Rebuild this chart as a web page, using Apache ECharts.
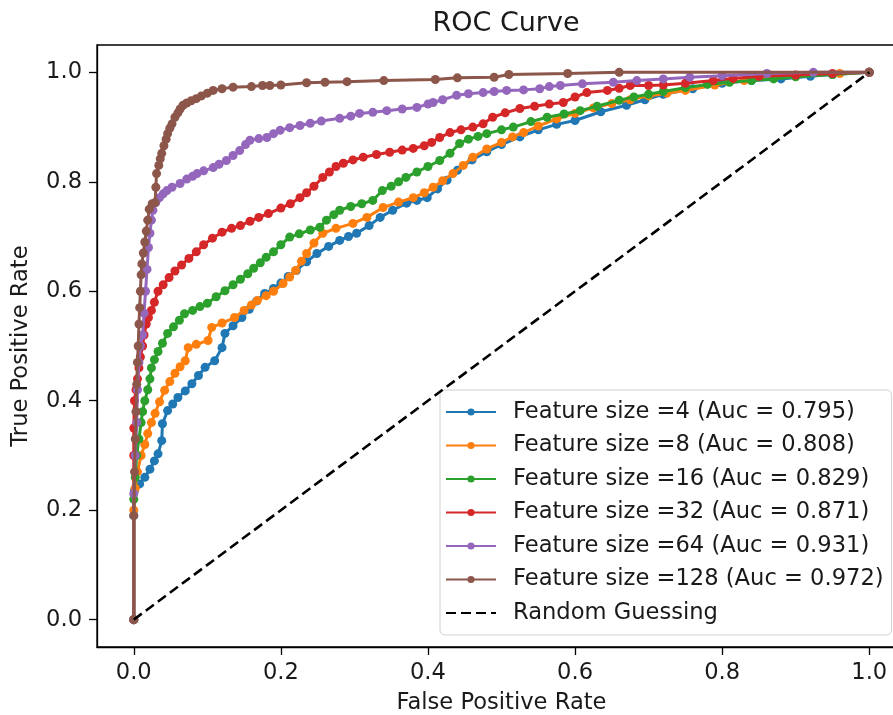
<!DOCTYPE html>
<html>
<head>
<meta charset="utf-8">
<title>ROC Curve</title>
<script src="https://cdn.jsdelivr.net/npm/echarts@6/dist/echarts.min.js"></script>
<style>
  html, body { margin: 0; padding: 0; background: #ffffff; overflow: hidden; }
  /* the figure is wider than the window; its right spine falls just outside the view */
  #chart { width: 940px; height: 715px; }
</style>
</head>
<body>
<div id="chart"></div>
<script>
// ROC points per feature size: [false positive rate, true positive rate]
const rocSize4 = [[0,0],[0,0.19],[0.001,0.236],[0.008,0.248],[0.015,0.26],[0.022,0.275],[0.028,0.29],[0.033,0.303],[0.038,0.327],[0.039,0.358],[0.046,0.382],[0.053,0.394],[0.06,0.406],[0.07,0.418],[0.079,0.431],[0.088,0.446],[0.097,0.461],[0.11,0.473],[0.12,0.497],[0.124,0.523],[0.135,0.537],[0.147,0.552],[0.157,0.567],[0.167,0.582],[0.178,0.596],[0.19,0.605],[0.2,0.615],[0.21,0.627],[0.221,0.638],[0.235,0.654],[0.249,0.669],[0.265,0.682],[0.28,0.693],[0.292,0.7],[0.303,0.706],[0.32,0.72],[0.335,0.735],[0.352,0.748],[0.371,0.761],[0.385,0.766],[0.399,0.771],[0.413,0.787],[0.426,0.803],[0.44,0.821],[0.46,0.84],[0.48,0.855],[0.5,0.868],[0.525,0.882],[0.55,0.895],[0.575,0.905],[0.6,0.912],[0.635,0.928],[0.67,0.94],[0.695,0.95],[0.72,0.96],[0.76,0.97],[0.8,0.98],[0.84,0.985],[0.88,0.988],[0.92,0.993],[0.95,0.996],[1,1]];
const rocSize8 = [[0,0],[0,0.2],[0.002,0.24],[0.005,0.27],[0.01,0.3],[0.015,0.32],[0.019,0.34],[0.024,0.36],[0.029,0.377],[0.035,0.398],[0.042,0.419],[0.049,0.435],[0.056,0.45],[0.063,0.462],[0.07,0.473],[0.074,0.497],[0.085,0.503],[0.101,0.51],[0.106,0.534],[0.12,0.542],[0.137,0.552],[0.15,0.565],[0.16,0.575],[0.168,0.583],[0.18,0.592],[0.19,0.6],[0.203,0.614],[0.212,0.626],[0.22,0.638],[0.228,0.655],[0.235,0.669],[0.245,0.688],[0.257,0.706],[0.275,0.715],[0.298,0.724],[0.317,0.735],[0.339,0.753],[0.36,0.763],[0.38,0.771],[0.395,0.78],[0.407,0.79],[0.42,0.802],[0.434,0.815],[0.448,0.83],[0.461,0.845],[0.48,0.86],[0.5,0.872],[0.515,0.882],[0.53,0.89],[0.55,0.902],[0.575,0.915],[0.6,0.925],[0.625,0.935],[0.65,0.943],[0.675,0.95],[0.7,0.957],[0.725,0.962],[0.75,0.967],[0.79,0.977],[0.83,0.985],[0.87,0.99],[0.9,0.993],[0.96,0.998],[1,1]];
const rocSize16 = [[0,0],[0,0.22],[0.002,0.26],[0.004,0.3],[0.007,0.33],[0.01,0.36],[0.012,0.38],[0.015,0.4],[0.019,0.42],[0.022,0.44],[0.024,0.46],[0.028,0.475],[0.033,0.49],[0.039,0.505],[0.046,0.523],[0.054,0.535],[0.062,0.547],[0.069,0.559],[0.08,0.565],[0.09,0.572],[0.1,0.578],[0.112,0.59],[0.124,0.601],[0.135,0.612],[0.145,0.622],[0.155,0.632],[0.163,0.642],[0.172,0.652],[0.18,0.662],[0.19,0.672],[0.2,0.685],[0.212,0.699],[0.225,0.705],[0.24,0.712],[0.253,0.717],[0.262,0.73],[0.272,0.74],[0.28,0.748],[0.295,0.755],[0.31,0.76],[0.325,0.766],[0.338,0.784],[0.35,0.792],[0.36,0.8],[0.37,0.808],[0.385,0.818],[0.4,0.828],[0.416,0.839],[0.43,0.852],[0.443,0.87],[0.455,0.878],[0.468,0.883],[0.48,0.888],[0.5,0.895],[0.516,0.9],[0.54,0.91],[0.562,0.918],[0.585,0.924],[0.607,0.93],[0.63,0.938],[0.66,0.949],[0.68,0.955],[0.7,0.96],[0.72,0.965],[0.75,0.972],[0.78,0.978],[0.81,0.982],[0.84,0.985],[0.87,0.988],[0.9,0.992],[0.95,0.996],[1,1]];
const rocSize32 = [[0,0],[0,0.3],[0,0.35],[0.001,0.4],[0.003,0.42],[0.005,0.44],[0.007,0.46],[0.009,0.48],[0.012,0.5],[0.014,0.52],[0.017,0.54],[0.02,0.552],[0.024,0.565],[0.028,0.58],[0.033,0.6],[0.04,0.612],[0.048,0.625],[0.056,0.637],[0.065,0.648],[0.075,0.66],[0.085,0.672],[0.095,0.685],[0.107,0.697],[0.12,0.708],[0.133,0.715],[0.145,0.72],[0.158,0.728],[0.17,0.735],[0.183,0.742],[0.2,0.752],[0.213,0.76],[0.226,0.771],[0.235,0.78],[0.245,0.792],[0.257,0.808],[0.266,0.818],[0.275,0.828],[0.285,0.834],[0.298,0.84],[0.312,0.845],[0.33,0.85],[0.348,0.854],[0.365,0.858],[0.38,0.861],[0.395,0.866],[0.405,0.872],[0.416,0.881],[0.43,0.89],[0.445,0.895],[0.461,0.9],[0.475,0.906],[0.488,0.918],[0.505,0.926],[0.525,0.934],[0.545,0.938],[0.565,0.942],[0.584,0.945],[0.6,0.955],[0.616,0.963],[0.644,0.967],[0.66,0.971],[0.675,0.976],[0.7,0.976],[0.72,0.977],[0.75,0.98],[0.788,0.985],[0.815,0.989],[0.85,0.993],[0.9,0.995],[0.95,0.998],[1,1]];
const rocSize64 = [[0,0],[0,0.23],[0.002,0.3],[0.004,0.36],[0.005,0.42],[0.007,0.47],[0.009,0.5],[0.012,0.52],[0.014,0.56],[0.016,0.6],[0.018,0.64],[0.02,0.68],[0.022,0.706],[0.024,0.73],[0.026,0.748],[0.03,0.762],[0.035,0.771],[0.04,0.778],[0.045,0.784],[0.052,0.79],[0.063,0.797],[0.072,0.805],[0.08,0.81],[0.086,0.815],[0.095,0.82],[0.108,0.826],[0.116,0.832],[0.126,0.839],[0.135,0.848],[0.144,0.857],[0.152,0.868],[0.158,0.876],[0.17,0.879],[0.181,0.881],[0.19,0.888],[0.199,0.894],[0.212,0.899],[0.226,0.903],[0.24,0.907],[0.255,0.911],[0.28,0.916],[0.295,0.92],[0.307,0.925],[0.325,0.927],[0.344,0.93],[0.365,0.933],[0.385,0.936],[0.4,0.942],[0.407,0.945],[0.42,0.95],[0.439,0.958],[0.455,0.961],[0.475,0.963],[0.49,0.965],[0.507,0.967],[0.53,0.968],[0.552,0.97],[0.565,0.974],[0.58,0.976],[0.61,0.979],[0.652,0.982],[0.684,0.985],[0.72,0.988],[0.756,0.991],[0.8,0.994],[0.861,0.998],[0.924,1],[1,1]];
const rocSize128 = [[0,0],[0,0.19],[0.001,0.27],[0.002,0.33],[0.003,0.38],[0.004,0.43],[0.005,0.47],[0.006,0.5],[0.007,0.54],[0.008,0.57],[0.009,0.6],[0.01,0.63],[0.011,0.65],[0.013,0.67],[0.015,0.69],[0.017,0.71],[0.019,0.73],[0.021,0.75],[0.025,0.76],[0.029,0.762],[0.03,0.79],[0.031,0.815],[0.034,0.83],[0.036,0.842],[0.038,0.852],[0.041,0.866],[0.044,0.878],[0.046,0.888],[0.049,0.898],[0.052,0.906],[0.056,0.918],[0.06,0.926],[0.063,0.933],[0.067,0.94],[0.072,0.944],[0.078,0.948],[0.085,0.952],[0.092,0.957],[0.1,0.962],[0.108,0.967],[0.12,0.97],[0.135,0.973],[0.16,0.974],[0.175,0.976],[0.185,0.976],[0.2,0.977],[0.235,0.981],[0.26,0.982],[0.29,0.983],[0.34,0.985],[0.41,0.987],[0.44,0.99],[0.49,0.991],[0.51,0.996],[0.59,0.998],[0.66,1],[1,1]];
const chanceLine = [[0,0],[1,1]];

const featureSizes = [4, 8, 16, 32, 64, 128];
const aucValues = ['0.795', '0.808', '0.829', '0.871', '0.931', '0.972'];
const rocCurves = [rocSize4, rocSize8, rocSize16, rocSize32, rocSize64, rocSize128];
const curveColors = ['#1f77b4', '#ff7f0e', '#2ca02c', '#d62728', '#9467bd', '#8c564b'];
const tickValues = [0, 0.2, 0.4, 0.6, 0.8, 1.0];

const titleText = 'ROC Curve';
const xAxisName = 'False Positive Rate';
const yAxisName = 'True Positive Rate';
const chanceName = 'Random Guessing';

const FONT = '"DejaVu Sans", "Liberation Sans", sans-serif';
const TEXT_COLOR = '#1a1a1a';
const BASE_SIZE = 22.6;

const series = rocCurves.map(function (pts, i) {
  return {
    name: 'Feature size =' + featureSizes[i] + ' (Auc = ' + aucValues[i] + ')',
    type: 'line',
    data: pts,
    color: curveColors[i],
    symbol: 'circle',
    symbolSize: 9,
    showSymbol: true,
    lineStyle: { width: 3, color: curveColors[i] },
    itemStyle: { color: curveColors[i] },
    z: 2 + i,
    silent: true
  };
});

series.push({
  name: chanceName,
  type: 'line',
  data: chanceLine,
  color: '#000000',
  symbol: 'none',
  lineStyle: { width: 2.6, color: '#000000', type: [10, 5] },
  itemStyle: { color: '#000000' },
  z: 10,
  silent: true
});

function axisCommon(name, nameGap) {
  return {
    type: 'value',
    min: -0.05,
    max: 1.05,
    name: name,
    nameLocation: 'middle',
    nameGap: nameGap,
    nameTextStyle: { fontFamily: FONT, fontSize: BASE_SIZE, color: TEXT_COLOR },
    splitLine: { show: false },
    axisLine: { show: true, onZero: false, lineStyle: { color: '#000000', width: 1.3 } },
    axisTick: { show: true, inside: false, length: 8, customValues: tickValues, lineStyle: { color: '#000000', width: 1.3 } },
    axisLabel: {
      show: true,
      customValues: tickValues,
      margin: 15,
      fontFamily: FONT,
      fontSize: BASE_SIZE,
      color: TEXT_COLOR,
      formatter: function (v) { return Number(v).toFixed(1); }
    }
  };
}

const legendData = series.map(function (s) {
  if (s.name === chanceName) {
    // dashed line only, no marker
    return { name: s.name, itemStyle: { opacity: 0 } };
  }
  return { name: s.name };
});

const chart = echarts.init(document.getElementById('chart'), null, { renderer: 'canvas' });
chart.setOption({
  backgroundColor: '#ffffff',
  animation: false,
  title: {
    text: titleText,
    left: 501,
    top: 5,
    textAlign: 'center',
    textStyle: { fontFamily: FONT, fontSize: 27, fontWeight: 'normal', color: TEXT_COLOR }
  },
  grid: {
    left: 97, top: 45, width: 809, height: 602,
    containLabel: false,
    outerBoundsMode: 'none',
    show: true, borderColor: '#000000', borderWidth: 1.3, backgroundColor: 'transparent'
  },
  xAxis: axisCommon(xAxisName, 45),
  yAxis: axisCommon(yAxisName, 64),
  legend: {
    orient: 'vertical',
    left: 440,
    top: 390,
    padding: [10, 8, 10, 5],
    itemGap: 9.5,
    itemWidth: 50,
    itemHeight: 9,
    backgroundColor: 'rgba(255,255,255,0.8)',
    borderColor: '#d0d0d0',
    borderWidth: 1,
    borderRadius: 5,
    selectedMode: false,
    data: legendData,
    textStyle: { fontFamily: FONT, fontSize: BASE_SIZE, lineHeight: 24, color: TEXT_COLOR, padding: [0, 0, 0, 12] }
  },
  series: series
});
</script>
</body>
</html>
